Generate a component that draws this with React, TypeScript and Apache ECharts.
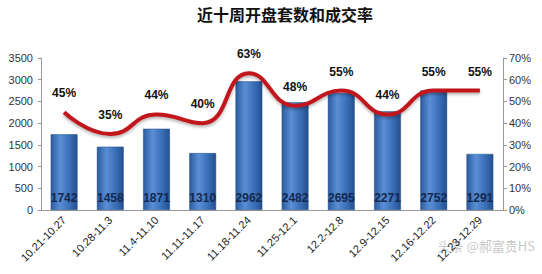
import React, { useEffect, useRef } from "react";
import * as echarts from "echarts";

const weeks = [
  "10.21-10.27", "10.28-11.3", "11.4-11.10", "11.11-11.17", "11.18-11.24",
  "11.25-12.1", "12.2-12.8", "12.9-12.15", "12.16-12.22", "12.23-12.29",
];
const openings = [1742, 1458, 1871, 1310, 2962, 2482, 2695, 2271, 2752, 1291];
const dealRates = [45, 35, 44, 40, 63, 48, 55, 44, 55, 55];

export default function App() {
  const ref = useRef<HTMLDivElement>(null);

  useEffect(() => {
    if (!ref.current) return;
    const chart = echarts.init(ref.current, null, { renderer: "svg" });
    const font = "'Liberation Sans', Arial, sans-serif";
    chart.setOption({
      animation: false,
      backgroundColor: "#ffffff",
      title: {
        text: "近十周开盘套数和成交率",
        left: 280,
        textAlign: "center",
        top: 1,
        textStyle: {
          fontFamily: "'Noto Sans CJK SC', sans-serif",
          fontSize: 16,
          fontWeight: "bold",
          color: "#111",
        },
      },
      grid: { left: 41, right: 39, top: 58, bottom: 64 },
      xAxis: {
        type: "category",
        data: weeks,
        axisLine: { lineStyle: { color: "#999" } },
        axisTick: { show: false },
        axisLabel: {
          rotate: 45,
          interval: 0,
          fontSize: 11,
          color: "#222",
          fontFamily: font,
          margin: 8,
        },
      },
      yAxis: [
        {
          type: "value",
          min: 0,
          max: 3500,
          interval: 500,
          splitLine: { show: false },
          axisLine: { show: true, lineStyle: { color: "#999" } },
          axisTick: { show: true, length: 3, lineStyle: { color: "#999" } },
          axisLabel: {
            fontSize: 11,
            color: "#333",
            fontFamily: font,
            margin: 8,
            formatter: (v: number) => String(v),
          },
        },
        {
          type: "value",
          min: 0,
          max: 70,
          interval: 10,
          position: "right",
          splitLine: { show: false },
          axisLine: { show: true, lineStyle: { color: "#999" } },
          axisTick: { show: true, length: 4, lineStyle: { color: "#999" } },
          axisLabel: {
            fontSize: 11,
            color: "#333",
            fontFamily: font,
            margin: 6,
            formatter: "{value}%",
          },
        },
      ],
      series: [
        {
          type: "bar",
          data: openings,
          barWidth: "58%",
          itemStyle: {
            color: new echarts.graphic.LinearGradient(0, 0, 1, 0, [
              { offset: 0, color: "#2b5b9e" },
              { offset: 0.35, color: "#5a8fd6" },
              { offset: 0.7, color: "#3a6fb8" },
              { offset: 1, color: "#24508f" },
            ]),
            borderColor: "#1f4a85",
            borderWidth: 0.5,
          },
          label: {
            show: true,
            position: "insideBottom",
            distance: 6,
            fontSize: 12,
            fontWeight: "bold",
            color: "#142850",
            fontFamily: font,
          },
          z: 2,
        },
        {
          type: "line",
          yAxisIndex: 1,
          data: dealRates,
          smooth: 0.5,
          symbol: "circle",
          symbolSize: 2,
          showSymbol: true,
          itemStyle: { color: "rgba(0,0,0,0)", borderWidth: 0 },
          lineStyle: {
            color: "#c0161c",
            width: 4,
            shadowColor: "rgba(0,0,0,0.3)",
            shadowBlur: 3,
            shadowOffsetY: 2,
          },
          label: {
            show: true,
            position: "top",
            distance: 12,
            fontSize: 12,
            fontWeight: "bold",
            color: "#111",
            fontFamily: font,
            formatter: "{c}%",
          },
          labelLayout: { hideOverlap: false },
          z: 3,
        },
      ],
      graphic: [
        {
          type: "text",
          right: 7,
          bottom: 22,
          style: {
            text: "头条 @郝富贵HS",
            fontSize: 13,
            fill: "rgba(150,150,150,0.55)",
            fontFamily: "'Noto Sans CJK SC', sans-serif",
          },
        },
      ],
    });
    return () => chart.dispose();
  }, []);

  return <div ref={ref} style={{ width: 542, height: 274, position: "absolute", left: 0, top: 0 }} />;
}
